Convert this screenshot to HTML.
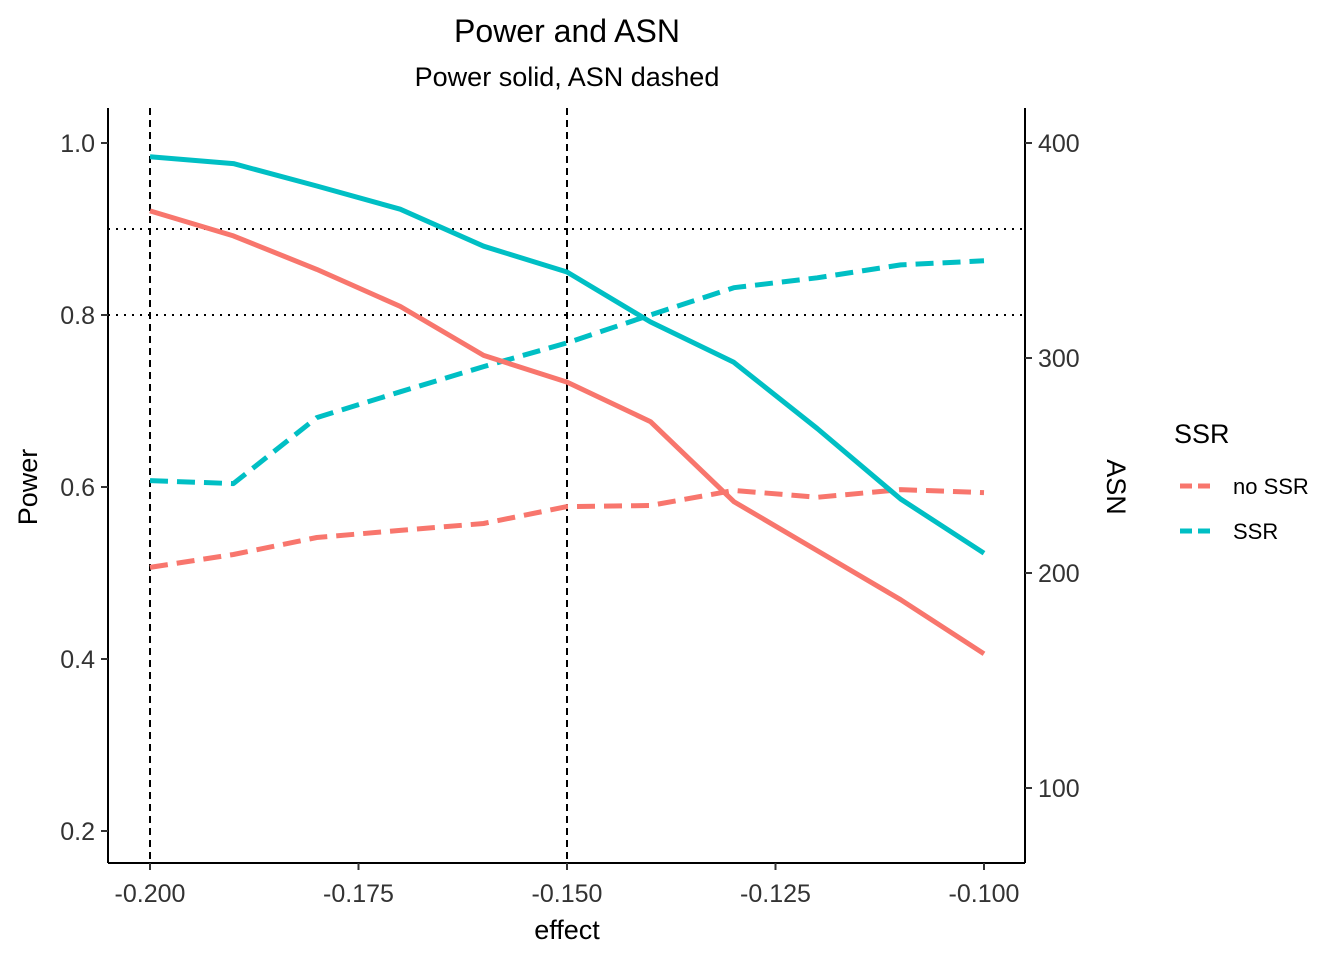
<!DOCTYPE html>
<html><head><meta charset="utf-8"><style>
body{margin:0;background:#fff}
text{font-family:"Liberation Sans",Arial,sans-serif}
</style></head><body>
<svg id="c" width="1344" height="960" xmlns="http://www.w3.org/2000/svg">
<rect width="1344" height="960" fill="#fff"/>
<g id="marks"></g>
<g id="axes"></g>
<text x="567" y="42" font-size="32" text-anchor="middle">Power and ASN</text>
<text x="567" y="86" font-size="27" text-anchor="middle">Power solid, ASN dashed</text>
<text x="567" y="939" font-size="27" text-anchor="middle">effect</text>
<text transform="translate(37,487) rotate(-90)" font-size="27" text-anchor="middle">Power</text>
<text transform="translate(1107,487) rotate(90)" font-size="27" text-anchor="middle">ASN</text>
<text x="1174" y="443" font-size="27">SSR</text>
<g>
<line x1="1180" y1="486" x2="1215" y2="486" stroke="#F8766D" stroke-width="5" stroke-dasharray="12,6"/>
<text x="1233" y="494" font-size="22">no SSR</text></g>
<g>
<line x1="1180" y1="531" x2="1215" y2="531" stroke="#00BFC4" stroke-width="5" stroke-dasharray="12,6"/>
<text x="1233" y="539" font-size="22">SSR</text></g>
</svg>
<script>
const effects=[-0.2,-0.19,-0.18,-0.17,-0.16,-0.15,-0.14,-0.13,-0.12,-0.11,-0.10];
const powerSSR=[0.984,0.976,0.950,0.923,0.880,0.850,0.792,0.745,0.668,0.586,0.523];
const powerNoSSR=[0.921,0.892,0.853,0.810,0.753,0.722,0.676,0.583,0.526,0.469,0.406];
const asnSSR=[243,241.6,272.3,284.3,296,307,320,332.7,337.3,343.3,345.2];
const asnNoSSR=[202.6,208.6,216.5,219.8,223,230.9,231.4,238.4,235.2,238.8,237.4];
const xTicks=[-0.2,-0.175,-0.15,-0.125,-0.1];
const xTickLabels=["-0.200","-0.175","-0.150","-0.125","-0.100"];
const yTicks=[0.2,0.4,0.6,0.8,1.0];
const y2Ticks=[100,200,300,400];
const vRefs=[-0.2,-0.15];
const hRefs=[0.8,0.9];

const NS="http://www.w3.org/2000/svg";
const xs=v=>150+(v+0.2)*8340;
const ys=v=>143+(1-v)*860;
const asnToPower=a=>0.2+(a-80)/400;
const y2s=a=>ys(asnToPower(a));
const marks=document.getElementById('marks'), axes=document.getElementById('axes');
function mk(tag,attrs,parent){const e=document.createElementNS(NS,tag);for(const k in attrs)e.setAttribute(k,attrs[k]);parent.appendChild(e);return e;}

vRefs.forEach(v=>{const l=mk('line',{x1:xs(v),x2:xs(v),y1:108,y2:863,stroke:'#000','stroke-width':2,'stroke-dasharray':'7,5'},marks);

});
hRefs.forEach(v=>{const l=mk('line',{x1:108,x2:1025,y1:ys(v),y2:ys(v),stroke:'#000','stroke-width':2,'stroke-dasharray':'2,6'},marks);

});

function series(vals,yf,color,dash,name){
 const d=vals.map((v,i)=>(i?'L':'M')+xs(effects[i]).toFixed(1)+','+yf(v).toFixed(1)).join('');
 const p=mk('path',{d:d,fill:'none',stroke:color,'stroke-width':5,'stroke-linejoin':'round'},marks);
 if(dash)p.setAttribute('stroke-dasharray','18,9');
 
 
}
series(asnNoSSR,y2s,'#F8766D',true,'asn-no-ssr-line');
series(asnSSR,y2s,'#00BFC4',true,'asn-ssr-line');
series(powerNoSSR,ys,'#F8766D',false,'power-no-ssr-line');
series(powerSSR,ys,'#00BFC4',false,'power-ssr-line');

const ax=[[108,108,108,863],[108,863,1025,863],[1025,108,1025,863]];
ax.forEach((a,i)=>{const l=mk('line',{x1:a[0],y1:a[1],x2:a[2],y2:a[3],stroke:'#000','stroke-width':2},axes);

});
xTicks.forEach((v,i)=>{mk('line',{x1:xs(v),x2:xs(v),y1:863,y2:870,stroke:'#333','stroke-width':2},axes);
 const t=mk('text',{x:xs(v),y:902,'font-size':25,'text-anchor':'middle',fill:'#333'},axes);t.textContent=xTickLabels[i];
 
 });
yTicks.forEach(v=>{mk('line',{x1:101,x2:108,y1:ys(v),y2:ys(v),stroke:'#333','stroke-width':2},axes);
 const t=mk('text',{x:95,y:ys(v)+9,'font-size':25,'text-anchor':'end',fill:'#333'},axes);t.textContent=v.toFixed(1);
 
 });
y2Ticks.forEach(v=>{mk('line',{x1:1025,x2:1032,y1:y2s(v),y2:y2s(v),stroke:'#333','stroke-width':2},axes);
 const t=mk('text',{x:1038,y:y2s(v)+9,'font-size':25,fill:'#333'},axes);t.textContent=v;
 
 });
</script>
</body></html>
